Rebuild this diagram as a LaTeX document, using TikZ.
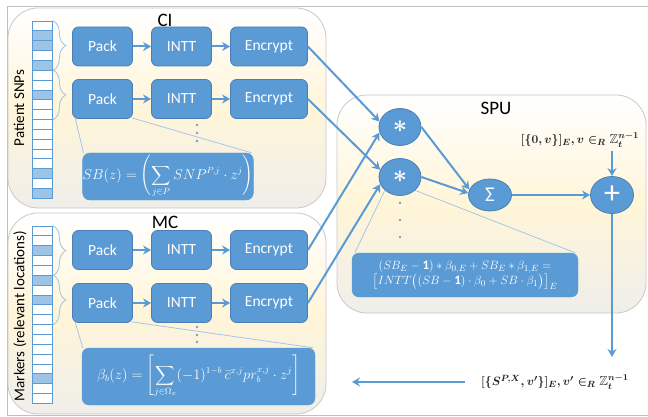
\documentclass[tikz,border=0pt]{standalone}
\usepackage{amsmath,amssymb,bm}
\usepackage{fontspec}
\setmainfont{Carlito}
\usetikzlibrary{shapes.geometric,arrows.meta,decorations.pathreplacing,calc}

\definecolor{boxblue}{HTML}{5B9BD5}
\definecolor{boxedge}{HTML}{4A7FB5}
\definecolor{cellblue}{HTML}{9DC3E6}
\definecolor{thinblue}{HTML}{9DC3E6}
\definecolor{panelline}{HTML}{C9C9C9}
\definecolor{cream}{HTML}{FFF5D8}
\definecolor{panelgrey}{HTML}{EFEEEA}
\definecolor{framegrey}{HTML}{C0C0C0}
\definecolor{dotgrey}{HTML}{7F9DBF}
\definecolor{mathink}{HTML}{222222}

\tikzset{
  x=1pt, y=-1pt,
  panel/.style={draw=panelline, line width=0.8pt, rounded corners=30pt,
    top color=white, bottom color=panelgrey, middle color=cream},
  procbox/.style={draw=boxedge, line width=0.8pt, fill=boxblue, rounded corners=6pt,
    text=white, font=\fontsize{15.5}{18}\selectfont, minimum height=39pt, inner sep=0pt},
  flow/.style={draw=boxblue, line width=2pt, -{Stealth[length=8pt,width=9pt]}},
  opnode/.style={ellipse, draw=boxedge, line width=0.8pt, fill=boxblue, text=white, inner sep=0pt},
  mathbox/.style={draw=boxblue, fill=boxblue, rounded corners=7pt, text=white, inner sep=0pt},
  callout/.style={draw=thinblue, line width=0.7pt},
  celln/.style={draw=boxblue, line width=0.8pt, minimum width=20pt, minimum height=9.85pt, inner sep=0pt},
  bracket/.style={draw=thinblue, line width=0.8pt, decorate,
    decoration={brace, amplitude=13pt, aspect=0.5}},
  dotn/.style={circle, fill=dotgrey, minimum size=2.6pt, inner sep=0pt},
  title/.style={font=\fontsize{19}{22}\selectfont, text=black},
  sidelabel/.style={font=\fontsize{15}{18}\selectfont, text=black, rotate=90},
  mathlabel/.style={font=\fontsize{13}{16}\selectfont\boldmath, text=mathink},
}

\begin{document}
\begin{tikzpicture}
\useasboundingbox (0,0) rectangle (648,417);
\fill[white] (0,0) rectangle (648,417);

% outer frame
\draw[framegrey, line width=0.8pt] (648,6) -- (7,6) -- (7,415) -- (648,415);

% panels
\path[panel] (8,8) rectangle (326,208);
\path[panel] (8,213) rectangle (326,414);
\path[panel] (337,95) rectangle (646,313);

\node[title] (citl) at (165,20) {CI};
\node[title] (mctl) at (165,222) {MC};
\node[title] (sputl) at (496,108) {SPU};

\node[sidelabel] (snplbl) at (19,108) {Patient SNPs};
\node[sidelabel] (mklbl) at (20,316) {Markers (relevant locations)};

% data columns
\foreach \i/\c in {0/white,1/cellblue,2/cellblue,3/white,4/cellblue,5/white,6/white,
  7/cellblue,8/white,9/white,10/white,11/white,12/white,13/white,14/white,
  15/cellblue,16/white,17/cellblue}
  \node[celln, fill=\c] (ci\i) at (42.5,{21+9.85*\i+4.925}) {};
\foreach \i/\c in {0/white,1/white,2/cellblue,3/white,4/white,5/cellblue,6/white,
  7/cellblue,8/white,9/white,10/white,11/white,12/white,13/white,14/white,
  15/cellblue,16/white,17/white}
  \node[celln, fill=\c] (mc\i) at (42.5,{226+9.85*\i+4.925}) {};

% CI rows
\node[procbox, minimum width=60pt] (cpack1) at (102.5,46.5) {Pack};
\node[procbox, minimum width=60pt] (cintt1) at (181.5,46.5) {INTT};
\node[procbox, minimum width=77pt] (cenc1) at (269,46.5) {Encrypt};
\node[procbox, minimum width=60pt] (cpack2) at (102.5,99) {Pack};
\node[procbox, minimum width=60pt] (cintt2) at (181.5,99) {INTT};
\node[procbox, minimum width=77pt] (cenc2) at (269,99) {Encrypt};

% MC rows
\node[procbox, minimum width=60pt] (mpack1) at (102.5,250) {Pack};
\node[procbox, minimum width=60pt] (mintt1) at (181.5,250) {INTT};
\node[procbox, minimum width=77pt] (menc1) at (269,250) {Encrypt};
\node[procbox, minimum width=60pt] (mpack2) at (102.5,303) {Pack};
\node[procbox, minimum width=60pt] (mintt2) at (181.5,303) {INTT};
\node[procbox, minimum width=77pt] (menc2) at (269,303) {Encrypt};

\foreach \r in {cpack1/cintt1, cintt1/cenc1, cpack2/cintt2, cintt2/cenc2,
                mpack1/mintt1, mintt1/menc1, mpack2/mintt2, mintt2/menc2}
  \foreach \a/\b in \r { \draw[flow] (\a) -- (\b); }

% braces grouping the columns
\draw[bracket] (ci0.north east) -- (ci4.south east);
\draw[bracket] (ci5.north east) -- (ci9.south east);
\draw[bracket] (mc0.north east) -- (mc4.south east);
\draw[bracket] (mc5.north east) -- (mc9.south east);

% continuation dots
\node[dotn] (cd1) at (197,125) {};
\node[dotn] (cd2) at (197,133) {};
\node[dotn] (cd3) at (197,141) {};
\node[dotn] (md1) at (197,327) {};
\node[dotn] (md2) at (197,335) {};
\node[dotn] (md3) at (197,342) {};

% packing formulas
\node[mathbox, minimum width=170pt, minimum height=47pt] (sbf) at (168,176.5)
  {\fontsize{13.5}{16}\selectfont$\displaystyle SB(z) = \left(\sum_{j\in P} SNP^{P,j}\cdot z^{j}\right)$};
\node[mathbox, minimum width=233pt, minimum height=57pt] (betaf) at (198.5,376.5)
  {\fontsize{13.5}{16}\selectfont$\displaystyle \beta_b(z) = \left[\sum_{j\in\Omega_x}(-1)^{1-b}\,\bar{c}^{x,j}pr_b^{x,j}\cdot z^{j}\right]$};

\draw[callout] ([shift={(3,-1)}]cpack2.south west) -- ([xshift=1]sbf.north west);
\draw[callout] ([shift={(-1,-1)}]cpack2.south east) -- ([xshift=-2]sbf.north east);
\draw[callout] ([shift={(3,-1)}]mpack2.south west) -- ([xshift=1]betaf.north west);
\draw[callout] ([shift={(-1,-1)}]mpack2.south east) -- ([xshift=-2]betaf.north east);

% SPU operators
\node[opnode, minimum width=42pt, minimum height=37pt] (mul1) at (400,127)
  {\fontsize{32}{32}\selectfont$\boldsymbol{\ast}$};
\node[opnode, minimum width=42pt, minimum height=37pt] (mul2) at (400,177)
  {\fontsize{32}{32}\selectfont$\boldsymbol{\ast}$};
\node[opnode, minimum width=43pt, minimum height=32pt] (sum) at (490,195)
  {\fontsize{21}{21}\selectfont Σ};
\node[opnode, minimum width=43pt, minimum height=37pt] (plus) at (612,195)
  {\fontsize{32}{32}\selectfont +};

\node[dotn] (sd1) at (400,203) {};
\node[dotn] (sd2) at (400,220) {};
\node[dotn] (sd3) at (400,237) {};

\node[mathbox, minimum width=226pt, minimum height=44pt, align=center] (spuf) at (465,275)
  {\fontsize{13}{18}\selectfont$(SB_E-\mathbf{1})*\beta_{0,E}+SB_E*\beta_{1,E} =$\\
   \fontsize{13}{18}\selectfont$\big[INTT\big((SB-\mathbf{1})\cdot\beta_0+SB\cdot\beta_1\big)\big]_E$};
\draw[callout] (mul2.south west) -- ([xshift=3]spuf.north west);
\draw[callout] (mul2.south east) -- ([xshift=-3]spuf.north east);

% encrypted inputs into the SPU
\draw[flow] (cenc1.east) -- (mul1.165);
\draw[flow] (menc1.east) -- (mul1.195);
\draw[flow] (cenc2.east) -- (mul2.160);
\draw[flow] (menc2.east) -- (mul2.200);

\draw[flow] (mul1.east) -- (sum.165);
\draw[flow] (mul2.east) -- (sum.175);
\draw[flow] (sum.east) -- (plus.west);

% mask input and result
\node[mathlabel] (mask) at (580,140)
  {$[\{0,\bm{v}\}]_E,\bm{v}\in_R\mathbb{Z}_t^{n-1}$};
\draw[flow] (plus.north |- mask.south) -- (plus.north);

\coordinate (outend) at (612,357);
\draw[flow] (plus.south) -- (outend);

\node[mathlabel] (result) at (555,382)
  {$[\{S^{P,X},\bm{v}'\}]_E,\bm{v}'\in_R\mathbb{Z}_t^{n-1}$};
\coordinate (resleft) at (352,382);
\draw[flow] ([xshift=-13]result.west) -- (resleft);
\end{tikzpicture}
\end{document}
